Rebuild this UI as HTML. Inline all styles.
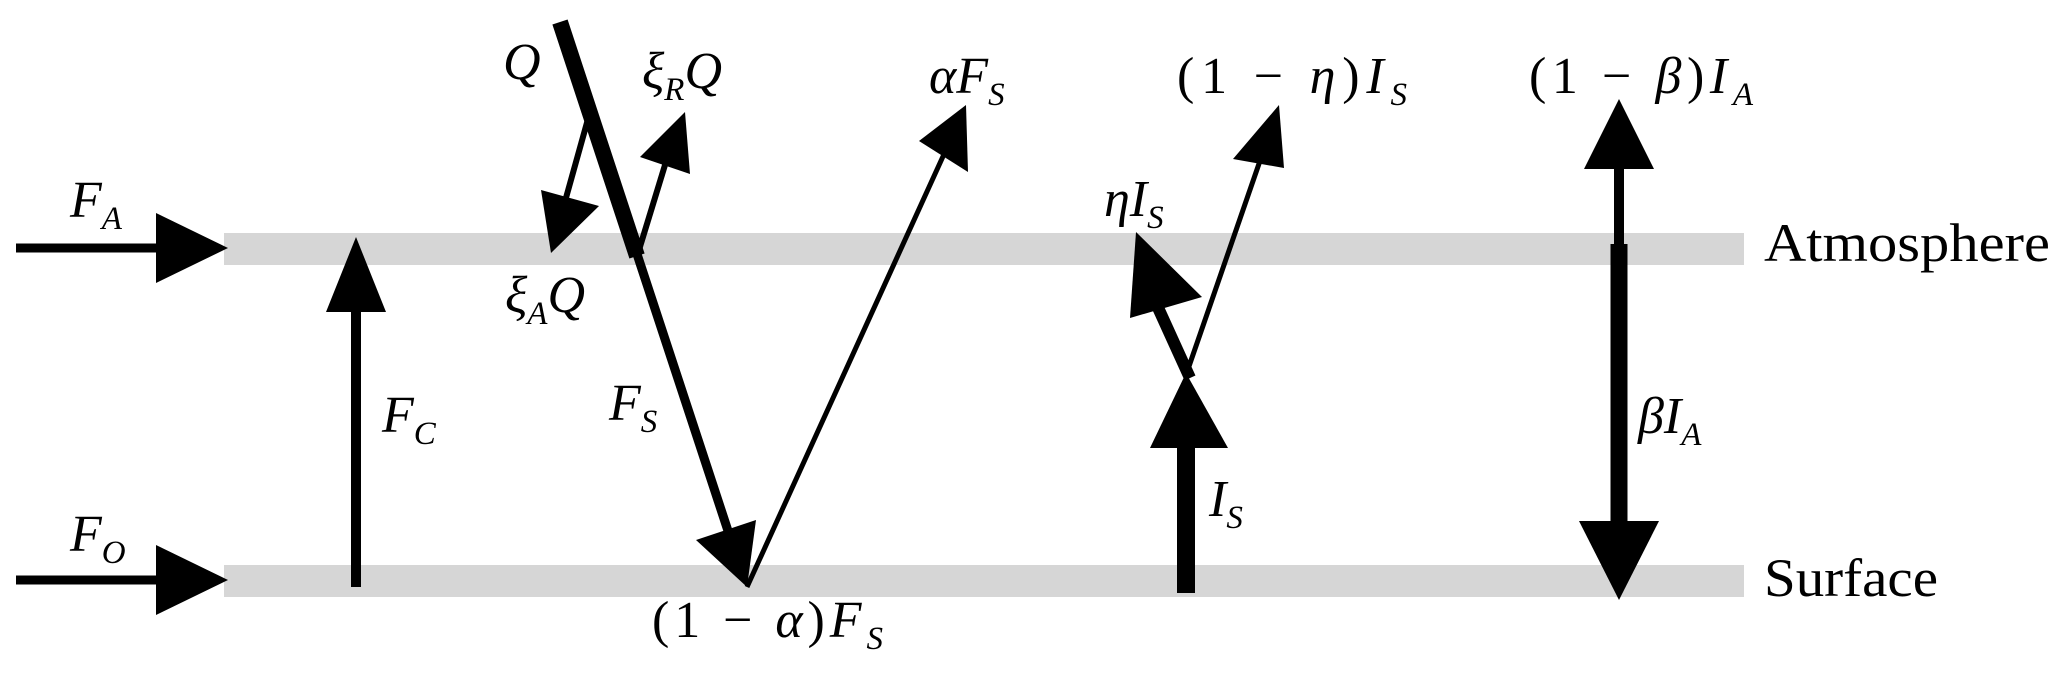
<!DOCTYPE html>
<html><head><meta charset="utf-8"><style>
html,body{margin:0;padding:0;background:#fff}
svg{display:block}
text{font-family:"Liberation Serif",serif;fill:#000}
.m{font-style:italic;font-size:52px}
.s{font-size:33px;font-style:italic}
.r{font-style:normal}
</style></head><body>
<svg width="2067" height="678" viewBox="0 0 2067 678" xmlns="http://www.w3.org/2000/svg">
<rect x="224" y="233" width="1520" height="32" fill="#d6d6d6"/>
<rect x="224" y="565" width="1520" height="32" fill="#d6d6d6"/>

<line x1="16" y1="248" x2="160" y2="248" stroke="#000" stroke-width="9"/>
<polygon points="156,213 228,248 156,283" fill="#000"/>
<line x1="16" y1="580" x2="160" y2="580" stroke="#000" stroke-width="9"/>
<polygon points="156,545 228,580 156,615" fill="#000"/>

<line x1="356" y1="587" x2="356" y2="305" stroke="#000" stroke-width="10"/>
<polygon points="326,312 356,237 386,312" fill="#000"/>

<line x1="560" y1="22" x2="637" y2="256" stroke="#000" stroke-width="16"/>
<line x1="637" y1="254" x2="731" y2="540" stroke="#000" stroke-width="9"/>
<polygon points="696,540 756,520 747,587" fill="#000"/>

<line x1="588" y1="119" x2="564" y2="205" stroke="#000" stroke-width="6"/>
<polygon points="541,190 599,206 551,253" fill="#000"/>
<line x1="639" y1="250" x2="665" y2="165" stroke="#000" stroke-width="6"/>
<polygon points="640,157 685,112 690,174" fill="#000"/>

<line x1="747" y1="587" x2="945" y2="152" stroke="#000" stroke-width="5"/>
<polygon points="919,141 966,105 968,172" fill="#000"/>

<line x1="1186" y1="593" x2="1186" y2="440" stroke="#000" stroke-width="18"/>
<polygon points="1150,448 1186,373 1228,448" fill="#000"/>
<line x1="1190" y1="378" x2="1150" y2="290" stroke="#000" stroke-width="12"/>
<polygon points="1130,318 1136,232 1202,297" fill="#000"/>
<line x1="1186" y1="375" x2="1262" y2="155" stroke="#000" stroke-width="5"/>
<polygon points="1233,159 1279,105 1284,168" fill="#000"/>

<polygon points="1584,169 1619,99 1654,169" fill="#000"/>
<line x1="1619" y1="165" x2="1619" y2="246" stroke="#000" stroke-width="10"/>
<line x1="1619" y1="244" x2="1619" y2="525" stroke="#000" stroke-width="17"/>
<polygon points="1579,521 1659,521 1619,600" fill="#000"/>

<text x="70" y="217" class="m">F<tspan class="s" dy="12">A</tspan></text>
<text x="70" y="551" class="m">F<tspan class="s" dy="12">O</tspan></text>
<text x="382" y="432" class="m">F<tspan class="s" dy="12">C</tspan></text>
<text x="503" y="79" class="m">Q</text>
<text x="642" y="88" class="m">ξ<tspan class="s" dy="12">R</tspan><tspan dy="-12">Q</tspan></text>
<text x="929" y="93" class="m">α<tspan>F</tspan><tspan class="s" dy="12">S</tspan></text>
<text x="505" y="312" class="m">ξ<tspan class="s" dy="12">A</tspan><tspan dy="-12">Q</tspan></text>
<text x="609" y="420" class="m">F<tspan class="s" dy="12">S</tspan></text>
<text x="652" y="637" class="m" textLength="231" lengthAdjust="spacing"><tspan class="r">(1 − </tspan>α<tspan class="r">)</tspan>F<tspan class="s" dy="12">S</tspan></text>
<text x="1104" y="216" class="m">η<tspan>I</tspan><tspan class="s" dy="12">S</tspan></text>
<text x="1177" y="93" class="m" textLength="230" lengthAdjust="spacing"><tspan class="r">(1 − </tspan>η<tspan class="r">)</tspan>I<tspan class="s" dy="12">S</tspan></text>
<text x="1209" y="516" class="m">I<tspan class="s" dy="12">S</tspan></text>
<text x="1529" y="93" class="m" textLength="224" lengthAdjust="spacing"><tspan class="r">(1 − </tspan>β<tspan class="r">)</tspan>I<tspan class="s" dy="12">A</tspan></text>
<text x="1638" y="433" class="m">β<tspan>I</tspan><tspan class="s" dy="12">A</tspan></text>
<text x="1764" y="261" font-size="54" textLength="286" lengthAdjust="spacingAndGlyphs">Atmosphere</text>
<text x="1764" y="596" font-size="54" textLength="174" lengthAdjust="spacingAndGlyphs">Surface</text>
</svg>
</body></html>
